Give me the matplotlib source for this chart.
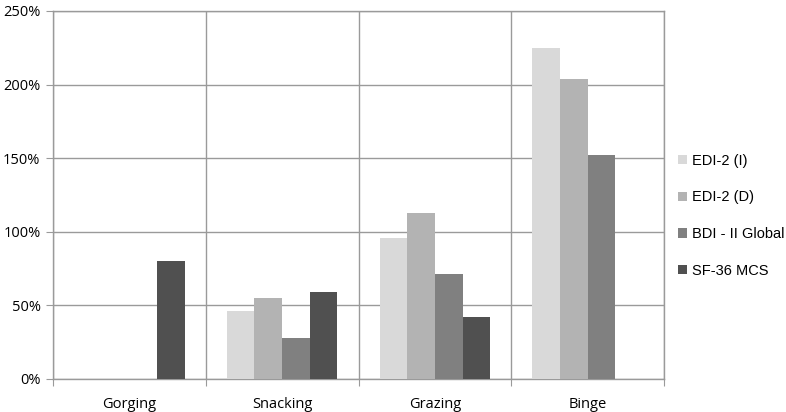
import matplotlib
matplotlib.use("Agg")
import matplotlib.pyplot as plt
import numpy as np
from matplotlib.ticker import FixedLocator, PercentFormatter

categories = ["Gorging", "Snacking", "Grazing", "Binge"]
series = ["EDI-2 (I)", "EDI-2 (D)", "BDI - II Global", "SF-36 MCS"]
edi_i = [0, 46, 96, 225]
edi_d = [0, 55, 113, 204]
bdi = [0, 28, 71, 152]
sf36 = [80, 59, 42, 0]
values = [edi_i, edi_d, bdi, sf36]
colors = ["#d9d9d9", "#b3b3b3", "#808080", "#505050"]

fig = plt.figure(figsize=(7.86, 4.12), dpi=100)
ax = fig.add_axes([53 / 786, 33 / 412, 611 / 786, 368 / 412])

x = np.arange(len(categories))
w = 0.181
for i, (name, vals, c) in enumerate(zip(series, values, colors)):
    ax.bar(x + (i - 1.5) * w, vals, width=w, color=c, label=name, zorder=3)

gc = "#9a9a9a"
ax.set_xlim(-0.5, len(categories) - 0.5)
ax.set_ylim(0, 250)
ax.set_yticks(np.arange(0, 251, 50))
ax.yaxis.set_major_formatter(PercentFormatter(decimals=0))
ax.xaxis.set_major_locator(FixedLocator(np.arange(-0.5, len(categories), 1)))
ax.xaxis.set_minor_locator(FixedLocator(x))
ax.set_xticklabels([])
ax.set_xticklabels(categories, minor=True)
ax.tick_params(axis="x", which="minor", length=0, pad=13)
ax.tick_params(axis="x", which="major", length=5, color=gc)
ax.tick_params(axis="y", length=5, color=gc, pad=4)
for lab in ax.get_xticklabels(minor=True) + ax.get_yticklabels():
    lab.set_fontfamily("Open Sans")
    lab.set_fontsize(10.5)
    lab.set_color("#000000")
ax.grid(True, which="major", color=gc, linewidth=1, zorder=0)
for s in ax.spines.values():
    s.set_color(gc)
    s.set_linewidth(1)

ax.legend(loc="upper left", bbox_to_anchor=(672 / 786, 1 - 148 / 412),
          bbox_transform=fig.transFigure, frameon=False,
          prop={"family": "Liberation Sans", "size": 10.5},
          handlelength=0.6, handleheight=0.6, handletextpad=0.4,
          labelspacing=1.55, borderaxespad=0)

fig.savefig("out.png", dpi=100)
